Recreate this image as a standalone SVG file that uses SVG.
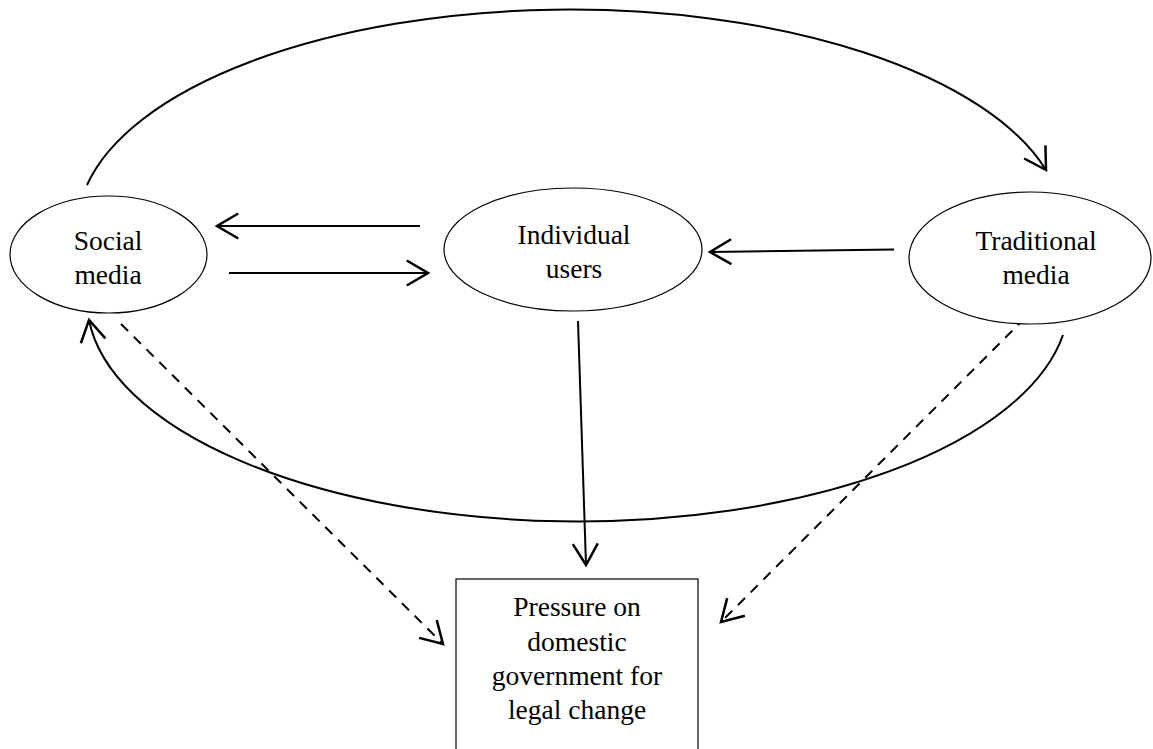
<svg xmlns="http://www.w3.org/2000/svg" width="1153" height="749" viewBox="0 0 1153 749">
<style>
.node{fill:#fff;stroke:#000;stroke-width:1.2}
.lbl{font-family:"Liberation Serif","Times New Roman",serif;font-size:27.5px;fill:#000;text-anchor:middle}
.c{fill:none;stroke:#000;stroke-width:2}
.d{fill:none;stroke:#000;stroke-width:2;stroke-dasharray:10,8}
</style>
<defs>
<marker id="ah" markerUnits="userSpaceOnUse" markerWidth="30" markerHeight="30" viewBox="-20 -12 22 24" refX="0" refY="0" orient="auto">
<path d="M-17,-10 L0,0 L-17,10" fill="none" stroke="#000" stroke-width="2"/>
</marker>
</defs>
<rect width="1153" height="749" fill="#fff"/>
<g id="connectors">
<path class="c" d="M87,185 A493,218 0 0 1 1046,170" marker-end="url(#ah)"/>
<path class="c" d="M1063,335 A491,221 0 0 1 89,320" marker-end="url(#ah)"/>
<line class="c" x1="420" y1="226" x2="217" y2="226" marker-end="url(#ah)"/>
<line class="c" x1="229" y1="273" x2="428" y2="273" marker-end="url(#ah)"/>
<line class="c" x1="894" y1="249.5" x2="710" y2="252" marker-end="url(#ah)"/>
<line class="c" x1="578" y1="321" x2="586" y2="565" marker-end="url(#ah)"/>
<line class="d" x1="121" y1="324" x2="443" y2="644" marker-end="url(#ah)"/>
<line class="d" x1="1025" y1="318" x2="721" y2="622" marker-end="url(#ah)"/>
</g>
<g id="social-media">
<ellipse class="node" cx="108.5" cy="254.5" rx="98.5" ry="58.5"/>
<text class="lbl" x="108" y="250">Social</text>
<text class="lbl" x="108" y="284">media</text>
</g>
<g id="individual-users">
<ellipse class="node" cx="573" cy="249.5" rx="129" ry="61.5"/>
<text class="lbl" x="574" y="244">Individual</text>
<text class="lbl" x="574" y="278">users</text>
</g>
<g id="traditional-media">
<ellipse class="node" cx="1030" cy="258" rx="121" ry="66"/>
<text class="lbl" x="1036" y="250">Traditional</text>
<text class="lbl" x="1036" y="284">media</text>
</g>
<g id="pressure">
<rect class="node" x="456" y="579" width="242" height="200"/>
<text class="lbl" x="577" y="616">Pressure on</text>
<text class="lbl" x="577" y="651">domestic</text>
<text class="lbl" x="577" y="685">government for</text>
<text class="lbl" x="577" y="719">legal change</text>
</g>
</svg>
